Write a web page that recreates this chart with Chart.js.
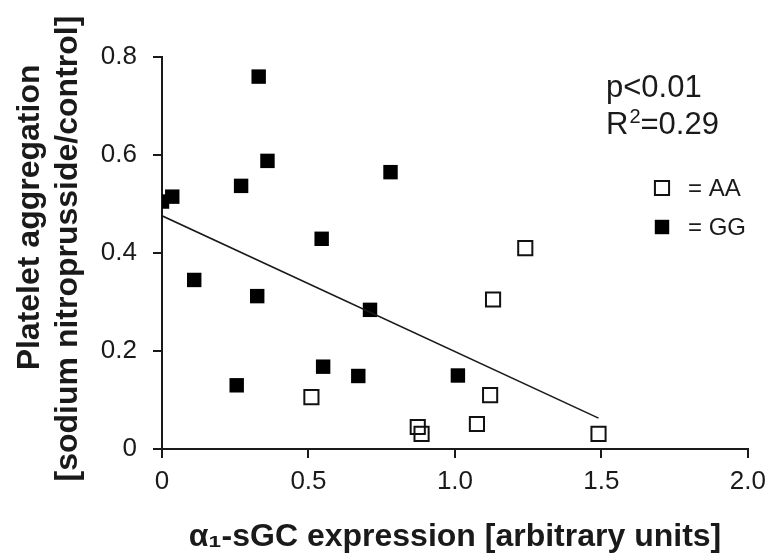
<!DOCTYPE html>
<html>
<head>
<meta charset="utf-8">
<title>Platelet aggregation vs a1-sGC expression</title>
<script src="https://cdn.jsdelivr.net/npm/chart.js@4.4.1/dist/chart.umd.min.js"></script>
<style>
    html, body { margin: 0; padding: 0; background: #ffffff; }
    #wrap { width: 774px; height: 556px; }
</style>
</head>
<body>
<div id="wrap"><canvas id="scatterChart" width="774" height="556"></canvas></div>
<script>
// GG genotype (filled squares)
const ggX = [0.00, 0.035, 0.33, 0.36, 0.27, 0.78, 0.545, 0.11, 0.325, 0.71, 0.255, 0.55, 0.67, 1.01];
const ggY = [0.505, 0.515, 0.76, 0.588, 0.537, 0.565, 0.429, 0.345, 0.312, 0.284, 0.13, 0.168, 0.149, 0.15];

// AA genotype (open squares)
const aaX = [0.51, 0.873, 0.886, 1.075, 1.12, 1.13, 1.24, 1.49];
const aaY = [0.106, 0.045, 0.031, 0.051, 0.11, 0.305, 0.41, 0.031];

// regression line end points
const fitX = [0.0, 1.49];
const fitY = [0.476, 0.063];

// tick labels
const xTickLabels = ['0', '0.5', '1.0', '1.5', '2.0'];
const yTickLabels = ['0', '0.2', '0.4', '0.6', '0.8'];

// text in the plot
const pText = 'p<0.01';
const rText = ['R', '2', '=0.29'];   // base, superscript, rest
const legendLabels = ['= AA', '= GG'];

const FONT = "'Liberation Sans', Arial, Helvetica, sans-serif";
const INK = '#1a1a1a';

function toPoints(xs, ys) {
    return xs.map((x, i) => ({ x: x, y: ys[i] }));
}

// Draws the p / R2 text and the small legend inside the plot area
const annotationPlugin = {
    id: 'annotations',
    afterDraw(chart) {
        const ctx = chart.ctx;
        ctx.save();
        ctx.fillStyle = INK;
        ctx.textAlign = 'left';
        ctx.textBaseline = 'alphabetic';

        ctx.font = '31px ' + FONT;
        ctx.fillText(pText, 606, 97);

        // R with a raised 2
        let x = 606;
        const base = 134;
        ctx.fillText(rText[0], x, base);
        x += ctx.measureText(rText[0]).width + 1;
        ctx.font = '20px ' + FONT;
        ctx.fillText(rText[1], x, base - 11);
        x += ctx.measureText(rText[1]).width;
        ctx.font = '31px ' + FONT;
        ctx.fillText(rText[2], x, base);

        // legend entries use the same styles as the datasets
        const sets = [chart.data.datasets[1], chart.data.datasets[0]];
        const rows = [188, 227];
        ctx.font = '24px ' + FONT;
        ctx.textBaseline = 'middle';
        sets.forEach((ds, i) => {
            ctx.fillStyle = ds.backgroundColor;
            ctx.strokeStyle = ds.borderColor;
            ctx.lineWidth = ds.borderWidth;
            Chart.helpers.drawPoint(ctx, {
                pointStyle: 'rect',
                radius: ds.pointRadius,
                borderWidth: ds.borderWidth
            }, 662, rows[i]);
            ctx.fillStyle = INK;
            ctx.fillText(legendLabels[i], 688, rows[i] + 1);
        });
        ctx.restore();
    }
};

function drawChart() {
    const ctx = document.getElementById('scatterChart').getContext('2d');
    new Chart(ctx, {
        type: 'scatter',
        data: {
            datasets: [
                {
                    label: 'GG',
                    data: toPoints(ggX, ggY),
                    pointStyle: 'rect',
                    pointRadius: 10.2,
                    backgroundColor: '#000000',
                    borderColor: '#000000',
                    borderWidth: 0,
                    order: 2
                },
                {
                    label: 'AA',
                    data: toPoints(aaX, aaY),
                    pointStyle: 'rect',
                    pointRadius: 10,
                    backgroundColor: 'rgba(255,255,255,0)',
                    borderColor: '#111111',
                    borderWidth: 2,
                    order: 3
                },
                {
                    type: 'line',
                    label: 'fit',
                    data: toPoints(fitX, fitY),
                    borderColor: INK,
                    borderWidth: 1.6,
                    pointRadius: 0,
                    fill: false,
                    order: 1
                }
            ]
        },
        options: {
            responsive: false,
            animation: false,
            events: [],
            layout: { padding: { left: 0, right: 25, top: 57, bottom: 0 } },
            plugins: {
                legend: { display: false },
                tooltip: { enabled: false }
            },
            scales: {
                x: {
                    type: 'linear',
                    min: 0,
                    max: 2,
                    afterFit(scale) { scale.height = 107; },
                    afterBuildTicks(scale) {
                        scale.ticks = xTickLabels.map((t, i) => ({ value: i * 0.5 }));
                    },
                    ticks: {
                        padding: 8,
                        color: INK,
                        font: { family: FONT, size: 26 },
                        callback: (value, index) => xTickLabels[index]
                    },
                    grid: { drawOnChartArea: false, drawTicks: true, tickLength: 9, color: INK, lineWidth: 2 },
                    border: { display: true, color: INK, width: 2 },
                    title: {
                        display: true,
                        text: '\u03B1\u2081-sGC expression [arbitrary units]',
                        color: INK,
                        font: { family: FONT, size: 32, weight: 'bold' },
                        padding: { top: 0, bottom: 0 }
                    }
                },
                y: {
                    type: 'linear',
                    min: 0,
                    max: 0.8,
                    afterFit(scale) { scale.width = 162; },
                    afterBuildTicks(scale) {
                        scale.ticks = yTickLabels.map((t, i) => ({ value: i * 0.2 }));
                    },
                    ticks: {
                        padding: 16,
                        color: INK,
                        font: { family: FONT, size: 26 },
                        callback: (value, index) => yTickLabels[index]
                    },
                    grid: { drawOnChartArea: false, drawTicks: true, tickLength: 9, color: INK, lineWidth: 2 },
                    border: { display: true, color: INK, width: 2 },
                    title: {
                        display: true,
                        // leading spaces push the first line up, like in the figure
                        text: ['        Platelet aggregation', ' [sodium nitroprusside/control]'],
                        color: INK,
                        font: { family: FONT, size: 32, weight: 'bold', lineHeight: 1.2 },
                        padding: { top: 11, bottom: 0 }
                    }
                }
            }
        },
        plugins: [annotationPlugin]
    });
}

window.onload = () => {
    drawChart();
};
</script>
</body>
</html>
